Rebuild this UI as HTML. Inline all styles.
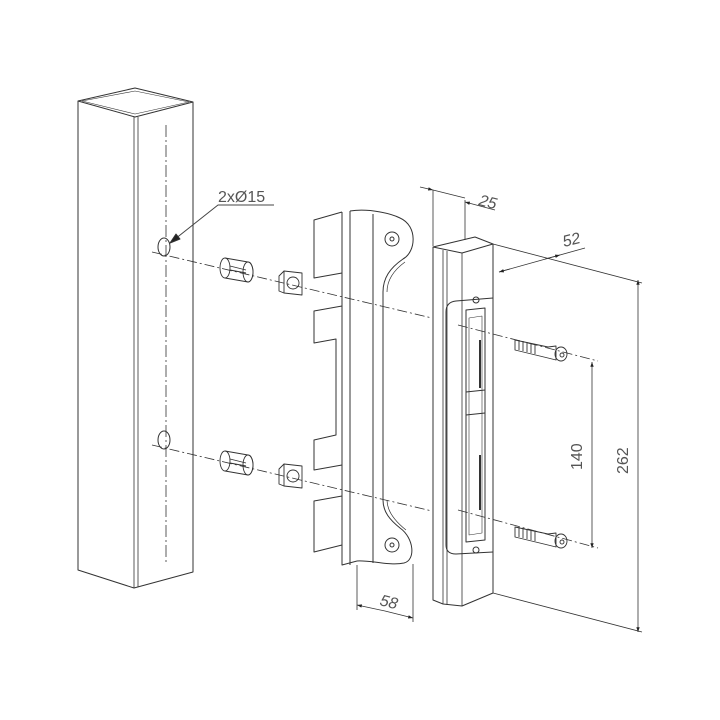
<!DOCTYPE html>
<html><head><meta charset="utf-8"><style>
html,body{margin:0;padding:0;background:#fff;}
svg{display:block;}
text{font-family:"Liberation Sans","DejaVu Sans",sans-serif;fill:#555;font-weight:normal;}
</style></head><body>
<svg width="720" height="720" viewBox="0 0 720 720" xmlns="http://www.w3.org/2000/svg">
<rect width="720" height="720" fill="#fff"/>
<defs>
<marker id="ar" viewBox="0 0 10 10" refX="10" refY="5" markerWidth="9" markerHeight="6" orient="auto-start-reverse"><path d="M0,1.5 L10,5 L0,8.5z" fill="#222"/></marker>
</defs>
<g fill="none" stroke="#333" stroke-width="1" stroke-linejoin="round">
<path d="M78,101 L135,88 L193,102 L135,117 Z"/>
<path d="M82,101 L135,91 L189,102 L135,114 Z" stroke-width="0.6"/>
<path d="M78,101 L78,570 L134,588 L193,572 L193,102"/>
<path d="M134,117 L134,588 M138,117 L138,587" stroke-width="0.8"/>
<path d="M166,125 L166,565" stroke-dasharray="12,3,2,3" stroke-width="0.8"/>
<ellipse cx="164" cy="247" rx="6" ry="9"/>
<ellipse cx="164" cy="440" rx="6" ry="9"/>
<path d="M274,205 L218,205 L170,243" stroke="#444"/>
<path d="M170,243 L176,234 L180,239Z" fill="#222"/>
<g stroke-dasharray="10,3,2,3" stroke-width="0.8">
<path d="M152,252 L432,318"/>
<path d="M152,445 L432,511"/>
<path d="M458,325 L598,361"/>
<path d="M458,510 L598,548"/>
</g>
<g stroke-width="0.9">
<path d="M225,258 L248,262 A5,10 0 0 1 248,282 L225,278"/>
<ellipse cx="225" cy="268" rx="5" ry="10"/>
<ellipse cx="248" cy="272" rx="5" ry="10"/>
<path d="M230,266 L246,270 M230,270 L246,273"/>
<path d="M225,451 L248,455 A5,10 0 0 1 248,475 L225,471"/>
<ellipse cx="225" cy="461" rx="5" ry="10"/>
<ellipse cx="248" cy="465" rx="5" ry="10"/>
<path d="M230,459 L246,463 M230,463 L246,466"/>
<path d="M284,271 L302,273 L302,295 L284,293 Z"/>
<path d="M284,271 L279,276 L279,291 L284,293"/>
<circle cx="293" cy="283" r="6"/>
<path d="M284,464 L302,466 L302,488 L284,486 Z"/>
<path d="M284,464 L279,469 L279,484 L284,486"/>
<circle cx="293" cy="476" r="6"/>
</g>
<path d="M342,212 L314,220 L314,278 L342,273 L342,306 L314,311 L314,343 L336,339 L336,435 L314,440 L314,470 L342,465 L342,496 L314,501 L314,552 L342,545"/>
<path d="M342,212 L342,565 L357,561 M350,211 L350,565 M373,214 L373,563"/>
<path d="M350,211 C370,208 392,214 400,218 C418,226 416,252 403,259 C390,268 383,278 383,292 L383,500 C383,512 390,520 400,528 C414,538 416,560 404,563 C390,566 370,560 357,561"/>
<path d="M387,292 C387,280 394,270 405,262 M387,500 C387,512 396,522 406,530" stroke-width="0.7"/>
<circle cx="392" cy="239" r="7"/><circle cx="392" cy="239" r="2"/>
<circle cx="392" cy="545" r="7"/><circle cx="392" cy="545" r="2"/>
<path d="M433,247 L475,237 L493,244 L462,253 Z"/>
<path d="M433,247 L433,600 L443,604 L462,606 L493,593 L493,244"/>
<path d="M443,250 L443,604 M447,251 L447,605 M462,253 L462,606" stroke-width="0.8"/>
<path d="M493,298 L456,301 Q446,302 446,312 L446,545 Q446,554 456,554 L493,552"/>
<path d="M466,310 L485,308 L485,540 L466,542 Z"/>
<path d="M469,318 L482,316 L482,533 L469,535 Z" stroke-width="0.6"/>
<path d="M466,392 L485,390 M466,415 L485,413"/>
<path d="M480,340 L480,388 M480,455 L480,510" stroke-width="2"/>
<circle cx="476" cy="300" r="3"/><circle cx="476" cy="550" r="3"/>
<g stroke-width="0.9">
<path d="M515,340 L548,347 L556,346 L556,360 L548,358 L515,350 Z"/>
<ellipse cx="561" cy="354" rx="6" ry="7"/><circle cx="562" cy="355" r="2"/>
<path d="M519,340 l0,10 M523,341 l0,10 M527,342 l0,10 M531,343 l0,10 M535,344 l0,10"/>
<path d="M515,527 L548,534 L556,533 L556,547 L548,545 L515,537 Z"/>
<ellipse cx="561" cy="541" rx="6" ry="7"/><circle cx="562" cy="542" r="2"/>
<path d="M519,527 l0,10 M523,528 l0,10 M527,529 l0,10 M531,530 l0,10 M535,531 l0,10"/>
</g>
<g stroke="#333" stroke-width="0.8">
<path d="M433,190 L433,246 M465,200 L465,240"/>
<path d="M420,187 L433,190" marker-end="url(#ar)"/>
<path d="M495,210 L465,202" marker-end="url(#ar)"/>
<path d="M433,190 L465,198"/>
<path d="M493,244 L642,283"/>
<path d="M499,272 L585,248"/>
<path d="M510,269 L499,272" marker-end="url(#ar)"/>
<path d="M545,259 L560,255" marker-end="url(#ar)"/>
<path d="M493,593 L642,632"/>
<path d="M638,455 L638,280" marker-end="url(#ar)"/>
<path d="M638,455 L638,632" marker-end="url(#ar)"/>
<path d="M592,455 L592,362" marker-end="url(#ar)"/>
<path d="M592,455 L592,548" marker-end="url(#ar)"/>
<path d="M357,565 L357,610 M413,564 L413,622"/>
<path d="M385,611 L357,605" marker-end="url(#ar)"/>
<path d="M385,611 L413,618" marker-end="url(#ar)"/>
</g>
</g>
<text x="218" y="202" font-size="16">2xØ15</text>
<text x="478" y="205" font-size="16" font-style="italic" transform="rotate(14 478 205)">25</text>
<text x="564" y="247" font-size="16" font-style="italic" transform="rotate(-14 564 247)">52</text>
<text x="628" y="474" font-size="16" transform="rotate(-90 628 474)">262</text>
<text x="582" y="470" font-size="16" transform="rotate(-90 582 470)">140</text>
<text x="379" y="605" font-size="16" font-style="italic" transform="rotate(14 379 605)">58</text>
</svg>
</body></html>
